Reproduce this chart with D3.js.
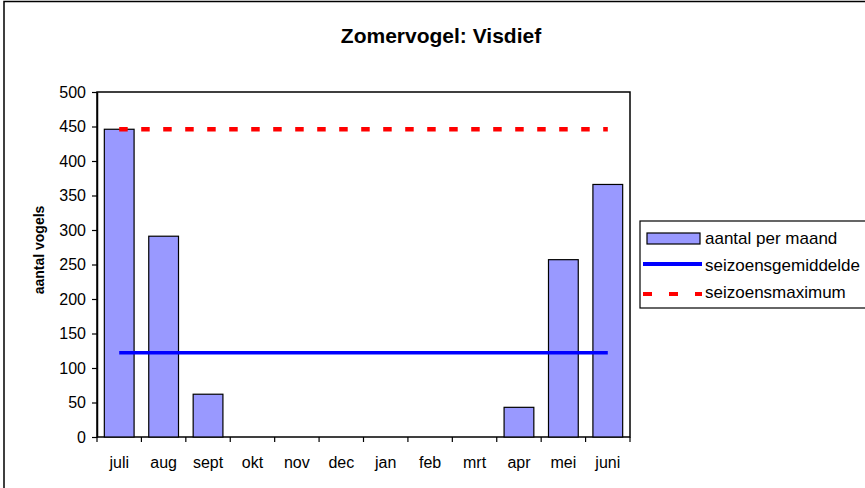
<!DOCTYPE html>
<html>
<head>
<meta charset="utf-8">
<script src="https://cdn.jsdelivr.net/npm/d3@7"></script>
<style>
  body { margin: 0; background: #fff; }
  text { font-family: "Liberation Sans", Arial, sans-serif; }
</style>
</head>
<body>
<svg width="865" height="488"></svg>
<script>
// data
const months = ["juli", "aug", "sept", "okt", "nov", "dec", "jan", "feb", "mrt", "apr", "mei", "juni"];
const perMonth = [446, 291, 62, 0, 0, 0, 0, 0, 0, 43, 257, 366];
const seasonAvg = [122, 122, 122, 122, 122, 122, 122, 122, 122, 122, 122, 122];
const seasonMax = [446, 446, 446, 446, 446, 446, 446, 446, 446, 446, 446, 446];
const yTicks = [0, 50, 100, 150, 200, 250, 300, 350, 400, 450, 500];

const svg = d3.select("svg");

// outer chart border (chart area is cropped on right / bottom)
svg.append("rect")
    .attr("x", 4).attr("y", 1.5)
    .attr("width", 900).attr("height", 520)
    .attr("fill", "#fff")
    .attr("stroke", "#000")
    .attr("stroke-width", 1.5)

// plot area
const plot = {left: 97, right: 630, top: 92, bottom: 437};

const x = d3.scaleBand()
    .domain(months)
    .range([plot.left, plot.right])
    .paddingInner(0.33)
    .paddingOuter(0.165);
const band = d3.scaleBand().domain(months).range([plot.left, plot.right]);

const y = d3.scaleLinear()
    .domain([0, 500])
    .range([plot.bottom, plot.top]);

svg.append("rect")
    .attr("x", plot.left).attr("y", plot.top)
    .attr("width", plot.right - plot.left).attr("height", plot.bottom - plot.top)
    .attr("fill", "none")
    .attr("stroke", "#000")
    .attr("stroke-width", 1.5)

// bars
svg.append("g")
    .selectAll("rect")
    .data(perMonth.map((v, i) => ({m: months[i], v: v})))
    .join("rect")
    .attr("x", d => x(d.m))
    .attr("y", d => y(d.v))
    .attr("width", x.bandwidth())
    .attr("height", d => y(0) - y(d.v))
    .attr("fill", "#9999ff")
    .attr("stroke", "#000")
    .attr("stroke-width", 1.2)

// lines
const line = d3.line()
    .x((d, i) => band(months[i]) + band.bandwidth() / 2)
    .y(d => y(d));

svg.append("path")
    .datum(seasonAvg)
    .attr("d", line)
    .attr("fill", "none")
    .attr("stroke", "#0000ff")
    .attr("stroke-width", 3.5)

svg.append("path")
    .datum(seasonMax)
    .attr("d", line)
    .attr("fill", "none")
    .attr("stroke", "#ff0000")
    .attr("stroke-width", 4.5)
    .style("stroke-dasharray", "8.5,13.5")

// y axis
const yAxis = svg.append("g")
    .attr("transform", `translate(${plot.left},0)`)
    .call(d3.axisLeft(y).tickValues(yTicks).tickSize(5).tickSizeOuter(0).tickPadding(6))
yAxis.select(".domain").attr("stroke-width", 1.5)
yAxis.selectAll("line").attr("stroke-width", 1.2)
yAxis.selectAll("text").style("font-size", "16px").attr("fill", "#000")

// x axis: ticks between categories
const xAxis = svg.append("g")
    .attr("transform", `translate(0,${plot.bottom})`)
xAxis.selectAll("line")
    .data(d3.range(13))
    .join("line")
    .attr("x1", i => plot.left + i * band.step())
    .attr("x2", i => plot.left + i * band.step())
    .attr("y1", 0).attr("y2", 5)
    .attr("stroke", "#000")
    .attr("stroke-width", 1.2)
xAxis.selectAll("text")
    .data(months)
    .join("text")
    .attr("x", d => band(d) + band.bandwidth() / 2)
    .attr("y", 31)
    .attr("text-anchor", "middle")
    .style("font-size", "16px")
    .text(d => d)

// title
svg.append("text")
    .attr("x", 441).attr("y", 43)
    .attr("text-anchor", "middle")
    .style("font-size", "21px")
    .style("font-weight", "bold")
    .text("Zomervogel: Visdief")

// y axis title
svg.append("text")
    .attr("transform", "translate(44,250) rotate(-90)")
    .attr("text-anchor", "middle")
    .style("font-size", "14px")
    .style("font-weight", "bold")
    .text("aantal vogels")

// legend
const lg = svg.append("g").attr("transform", "translate(640,221)")
lg.append("rect")
    .attr("x", 0).attr("y", 0)
    .attr("width", 240).attr("height", 87)
    .attr("fill", "#fff")
    .attr("stroke", "#000")
    .attr("stroke-width", 1.2)
lg.append("rect")
    .attr("x", 7).attr("y", 12)
    .attr("width", 53).attr("height", 11)
    .attr("fill", "#9999ff")
    .attr("stroke", "#000")
    .attr("stroke-width", 1.2)
lg.append("line")
    .attr("x1", 3).attr("x2", 62)
    .attr("y1", 43).attr("y2", 43)
    .attr("stroke", "#0000ff")
    .attr("stroke-width", 4)
lg.append("line")
    .attr("x1", 3).attr("x2", 62)
    .attr("y1", 73).attr("y2", 73)
    .attr("stroke", "#ff0000")
    .attr("stroke-width", 4)
    .style("stroke-dasharray", "9,17")
const legendLabels = ["aantal per maand", "seizoensgemiddelde", "seizoensmaximum"]
lg.selectAll("text.lbl")
    .data(legendLabels)
    .join("text")
    .attr("class", "lbl")
    .attr("x", 65)
    .attr("y", (d, i) => 23 + i * 27)
    .style("font-size", "17px")
    .text(d => d)
</script>
</body>
</html>
